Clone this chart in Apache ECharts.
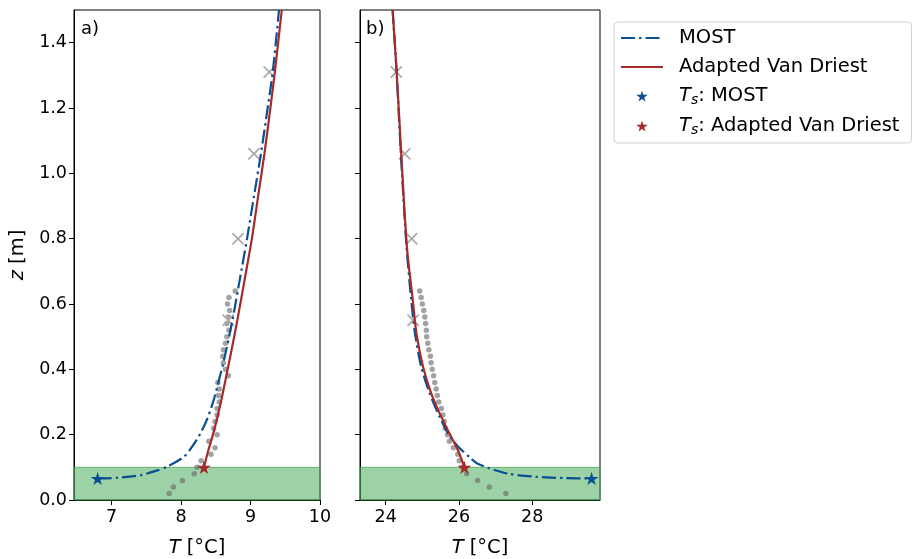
<!DOCTYPE html>
<html><head><meta charset="utf-8">
<script src="https://cdn.jsdelivr.net/npm/echarts@6/dist/echarts.min.js"></script>
<style>html,body{margin:0;padding:0;background:#fff}#c{width:914px;height:559px}</style>
</head><body><div id="c"></div>
<script>
// ---- data ----
const zDots = [0.02,0.04,0.06,0.08,0.10,0.12,0.14,0.16,0.18,0.20,0.22,0.24,0.26,0.28,0.30,0.32,0.34,0.36,0.38,0.40,0.42,0.44,0.46,0.48,0.50,0.52,0.54,0.56,0.58,0.60,0.62,0.64];
const aDotsT = [7.83,7.89,8.02,8.19,8.23,8.29,8.43,8.49,8.40,8.52,8.47,8.49,8.52,8.52,8.55,8.54,8.55,8.53,8.68,8.64,8.61,8.60,8.61,8.64,8.66,8.69,8.66,8.68,8.70,8.67,8.69,8.78];
const bDotsT = [27.28,26.83,26.51,26.21,26.10,26.01,25.97,25.85,25.74,25.69,25.63,25.60,25.56,25.52,25.45,25.41,25.38,25.34,25.31,25.27,25.24,25.22,25.18,25.15,25.12,25.11,25.09,25.07,25.04,25.00,24.97,24.93];

const zCross = [1.31,1.06,0.80,0.55];
const aCrossT = [9.27,9.05,8.82,8.68];
const bCrossT = [24.29,24.52,24.71,24.75];

const aMostZ = [0.066,0.068,0.076,0.090,0.102,0.132,0.160,0.204,0.250,0.306,0.430,0.550,0.680,0.800,0.930,1.060,1.190,1.310,1.500];
const aMostT = [6.80,7.08,7.42,7.65,7.80,8.04,8.15,8.28,8.38,8.47,8.62,8.74,8.85,8.95,9.05,9.15,9.24,9.32,9.41];
const aVdZ = [0.10,0.15,0.20,0.25,0.306,0.43,0.55,0.68,0.80,0.93,1.06,1.19,1.31,1.50];
const aVdT = [8.33,8.39,8.46,8.52,8.58,8.70,8.81,8.92,9.02,9.11,9.20,9.28,9.35,9.45];

const bMostZ = [1.5,1.31,1.07,0.774,0.61,0.51,0.408,0.327,0.255,0.20,0.163,0.13,0.112,0.097,0.080,0.071,0.067,0.066];
const bMostT = [24.19,24.30,24.41,24.57,24.70,24.80,24.97,25.20,25.47,25.72,25.98,26.30,26.50,26.83,27.37,28.10,28.92,29.62];
const bVdZ = [1.5,1.31,1.07,0.774,0.612,0.51,0.408,0.327,0.266,0.204,0.153,0.10];
const bVdT = [24.19,24.30,24.42,24.58,24.74,24.84,25.02,25.24,25.47,25.74,25.97,26.15];

const starA = {most:[6.80,0.066], vd:[8.33,0.10]};
const starB = {most:[29.62,0.066], vd:[26.15,0.10]};

const bandZ = [0, 0.1];
const xTicksA = [7,8,9,10];
const xTicksB = [24,26,28];
const yTicks = [0,0.2,0.4,0.6,0.8,1.0,1.2,1.4];
const legendNames = ['MOST','Adapted Van Driest','Ts: MOST','Ts: Adapted Van Driest'];

// ---- build ----
const pair = (xs, ys) => xs.map((x,i)=>[x, ys[i]]);
const BLUE = '#0a4f92', RED = '#a52a2a';
const STAR = 'path://M50,0 L61,35 L98,35 L68,57 L79,91 L50,70 L21,91 L32,57 L2,35 L39,35 Z';
const XMARK = 'path://M0,2 L2,0 L10,8 L18,0 L20,2 L12,10 L20,18 L18,20 L10,12 L2,20 L0,18 L8,10 Z';
const FONT = 'DejaVu Sans';
const TICK_FS = 17.5, NAME_FS = 19.5;

function xAxis(g, min, max, ticks) {
  return {gridIndex:g, type:'value', min, max,
    axisLine:{show:true, onZero:false, lineStyle:{color:'#000', width:1}},
    axisTick:{show:true, customValues:ticks, length:5, lineStyle:{color:'#000'}},
    axisLabel:{customValues:ticks, fontSize:TICK_FS, color:'#000', margin:8, fontFamily:FONT},
    splitLine:{show:false},
    name:'{i|T} [°C]', nameLocation:'middle', nameGap:38,
    nameTextStyle:{fontSize:NAME_FS, color:'#000', fontFamily:FONT, rich:{i:{fontStyle:'italic', fontSize:NAME_FS, fontFamily:FONT, color:'#000'}}}
  };
}
function yAxis(g, labels) {
  const a = {gridIndex:g, type:'value', min:0, max:1.5,
    axisLine:{show:true, onZero:false, lineStyle:{color:'#000', width:1}},
    axisTick:{show:true, customValues:yTicks, length:5, lineStyle:{color:'#000'}},
    axisLabel:{show:labels, customValues:yTicks, fontSize:TICK_FS, color:'#000', margin:7, fontFamily:FONT, formatter:v=>v.toFixed(1)},
    splitLine:{show:false}
  };
  if (labels) {
    a.name = '{i|z} [m]'; a.nameLocation='middle'; a.nameGap=46;
    a.nameTextStyle = {fontSize:NAME_FS, color:'#000', fontFamily:FONT, rich:{i:{fontStyle:'italic', fontSize:NAME_FS, fontFamily:FONT, color:'#000'}}};
  }
  return a;
}
function panelSeries(g, dotsT, crossT, mostT, mostZ, vdT, vdZ, stars) {
  return [
    {type:'scatter', xAxisIndex:g, yAxisIndex:g, name:'dots'+g, data:pair(dotsT, zDots), symbol:'circle', symbolSize:5.5,
     itemStyle:{color:'rgba(105,105,105,0.62)', opacity:1}, z:3,
     markArea:{silent:true, itemStyle:{color:'rgba(60,165,80,0.5)', borderColor:'rgba(60,160,80,0.7)', borderWidth:1},
       data:[[{yAxis:bandZ[0]},{yAxis:bandZ[1]}]]}},
    {type:'scatter', xAxisIndex:g, yAxisIndex:g, name:'cross'+g, data:pair(crossT, zCross), symbol:XMARK, symbolSize:12.5,
     itemStyle:{color:'#ababab', opacity:1}, z:3},
    {type:'line', xAxisIndex:g, yAxisIndex:g, name:legendNames[0], data:pair(mostT, mostZ), symbol:'none', smooth:0.25,
     lineStyle:{color:BLUE, width:2.2, type:[14,4,2.5,4], cap:'butt'}, itemStyle:{color:BLUE}, z:4},
    {type:'line', xAxisIndex:g, yAxisIndex:g, name:legendNames[1], data:pair(vdT, vdZ), symbol:'none', smooth:0.25,
     lineStyle:{color:RED, width:2.2, type:'solid'}, itemStyle:{color:RED}, z:5},
    {type:'scatter', xAxisIndex:g, yAxisIndex:g, name:legendNames[2], data:[stars.most], symbol:STAR, symbolSize:14, symbolKeepAspect:true,
     itemStyle:{color:BLUE, opacity:1}, z:6},
    {type:'scatter', xAxisIndex:g, yAxisIndex:g, name:legendNames[3], data:[stars.vd], symbol:STAR, symbolSize:14, symbolKeepAspect:true,
     itemStyle:{color:RED, opacity:1}, z:6}
  ];
}

const gridBase = {top:10, height:490, show:true, borderColor:'#000', borderWidth:1, backgroundColor:'#fff', containLabel:false, outerBoundsMode:'none'};
const option = {
  animation:false,
  textStyle:{fontFamily:FONT},
  grid:[
    Object.assign({left:74, width:246}, gridBase),
    Object.assign({left:360, width:240}, gridBase)
  ],
  xAxis:[xAxis(0, 6.46, 10, xTicksA), xAxis(1, 23.3, 29.85, xTicksB)],
  yAxis:[yAxis(0, true), yAxis(1, false)],
  legend:{
    data:[
      {name:legendNames[0], itemStyle:{opacity:0}},
      {name:legendNames[1], itemStyle:{opacity:0}},
      {name:legendNames[2], itemStyle:{color:BLUE, opacity:1}},
      {name:legendNames[3], itemStyle:{color:RED, opacity:1}}
    ],
    orient:'vertical', left:614, top:22,
    padding:[6,12,6,6], itemGap:9, itemWidth:42, itemHeight:11,
    borderColor:'#d0d0d0', borderWidth:1, borderRadius:4, backgroundColor:'#fff',
    selectedMode:false,
    formatter: n => n.startsWith('Ts') ? '{i|T}{s|s}' + n.slice(2) : n,
    textStyle:{fontSize:NAME_FS, color:'#000', fontFamily:FONT, padding:[0,0,0,11],
      rich:{i:{fontStyle:'italic', fontSize:NAME_FS, fontFamily:FONT, color:'#000'},
            s:{fontStyle:'italic', fontSize:14, fontFamily:FONT, color:'#000', padding:[8,0,0,0]}}}
  },
  graphic:[
    {type:'text', left:81, top:20, style:{text:'a)', fontSize:18, fill:'#000', fontFamily:FONT}},
    {type:'text', left:366, top:20, style:{text:'b)', fontSize:18, fill:'#000', fontFamily:FONT}}
  ],
  series:[
    ...panelSeries(0, aDotsT, aCrossT, aMostT, aMostZ, aVdT, aVdZ, starA),
    ...panelSeries(1, bDotsT, bCrossT, bMostT, bMostZ, bVdT, bVdZ, starB)
  ]
};
const chart = echarts.init(document.getElementById('c'), null, {renderer:'canvas'});
chart.setOption(option);
</script>
</body></html>
